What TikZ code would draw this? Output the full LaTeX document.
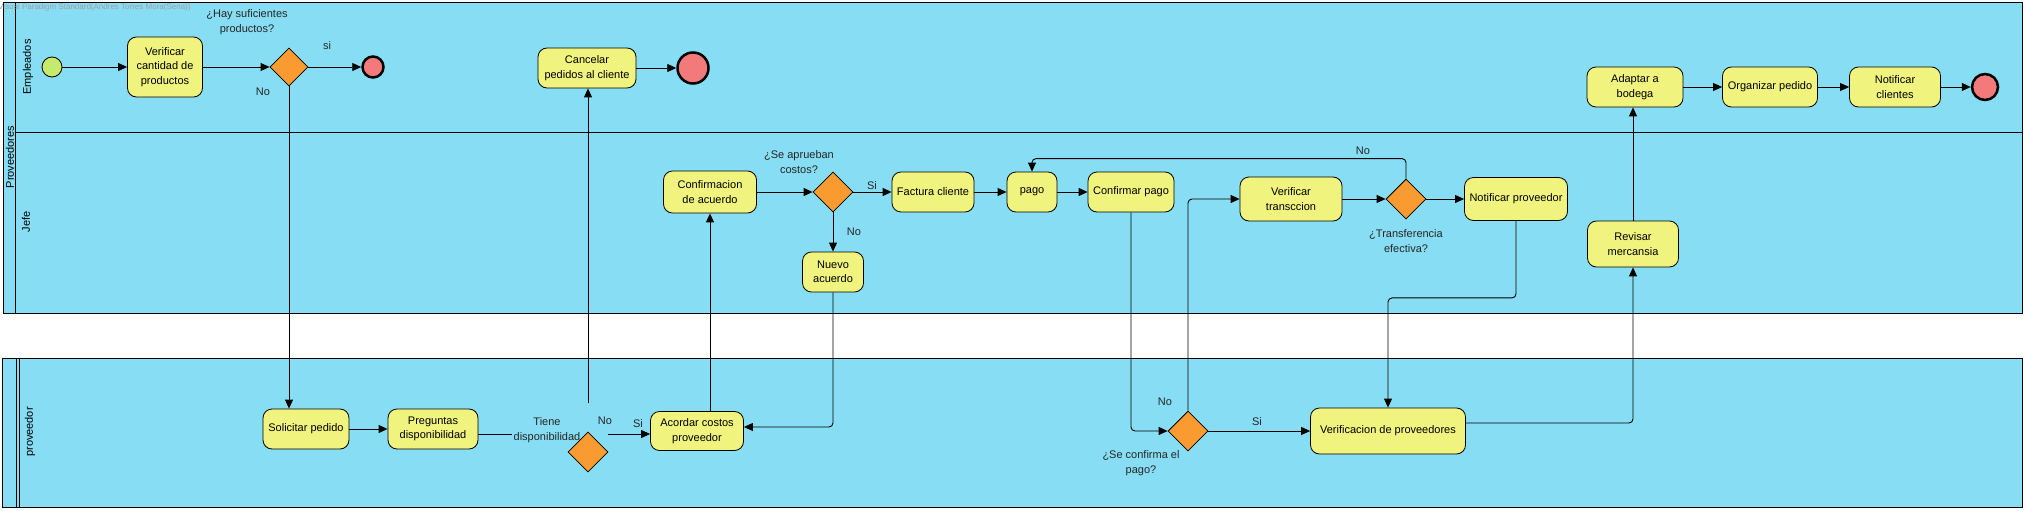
\documentclass[tikz,border=0pt]{standalone}
\usepackage{fontspec}
\setmainfont{Liberation Sans}
\usetikzlibrary{positioning,shapes.geometric,arrows.meta}
\definecolor{lanecol}{HTML}{87DDF3}
\definecolor{taskcol}{HTML}{F0F37D}
\definecolor{gatecol}{HTML}{FA9B32}
\definecolor{startcol}{HTML}{C5EA6C}
\definecolor{endcol}{HTML}{F27A7A}
\newcommand{\poolTop}{(3,3) rectangle (2022,313)}
\newcommand{\poolBot}{(2,358) rectangle (2022,507)}

\begin{document}
\begin{tikzpicture}[x=1pt,y=-1pt,
  every node/.style={font=\fontsize{11}{14.5}\selectfont},
  task/.style={draw,fill=taskcol,rounded corners=9pt,align=center,inner sep=2pt,line width=0.8pt},
  gateway/.style={draw,fill=gatecol,diamond,minimum width=40pt,minimum height=40pt,inner sep=0pt,line width=0.8pt},
  startev/.style={draw,fill=startcol,circle,minimum size=20pt,inner sep=0pt,line width=0.8pt},
  endev/.style={draw,fill=endcol,circle,inner sep=0pt,line width=2.5pt},
  flow/.style={-{Triangle[length=9pt,width=8pt]},line width=0.9pt,rounded corners=4pt},
  lbl/.style={align=center,inner sep=1pt,text=black!85},
  lanename/.style={rotate=90,inner sep=0pt}]
\useasboundingbox (0,0) rectangle (2026,511);

% pools
\fill[lanecol] \poolTop;
\draw[line width=1pt] \poolTop;
\draw[line width=1pt] (15,3) -- (15,313) (15,132) -- (2022,132);
\fill[lanecol] \poolBot;
\draw[line width=1pt] \poolBot;
\draw[line width=1pt] (16,358) -- (16,507) (19,358) -- (19,507);

\node[anchor=west,inner sep=0pt,text=gray!75,font=\fontsize{8}{9}\selectfont] (marca) at (-2,7) {Visual Paradigm Standard(Andres Torres Mora(Sena))};
\node[lanename] (lblprov) at (10,157) {Proveedores};
\node[lanename] (lblemp) at (28,67) {Empleados};
\node[lanename] (lbljefe) at (26,222) {Jefe};
\node[lanename] (lblproveedor) at (30,432) {proveedor};

% Empleados
\node[startev] (inicio) at (52,67) {};
\node[task,minimum width=75pt,minimum height=60pt] (verificar) at (165,67) {Verificar\\cantidad de\\productos};
\node[gateway,minimum width=38pt,minimum height=38pt] (gw1) at (289,67) {};
\node[endev,minimum size=21pt] (fin1) at (373,67) {};
\node[task,minimum width=98pt,minimum height=40pt] (cancelar) at (587,68) {Cancelar\\pedidos al cliente};
\node[endev,minimum size=31pt] (fin2) at (693,68) {};
\node[task,minimum width=96pt,minimum height=40pt] (adaptar) at (1635,87) {Adaptar a\\bodega};
\node[task,minimum width=95pt,minimum height=40pt] (organizar) at (1770,87) {Organizar pedido};
\node[task,minimum width=91pt,minimum height=40pt] (notclientes) at (1895,87) {Notificar\\clientes};
\node[endev,minimum size=26pt] (fin3) at (1985,87) {};

% Jefe
\node[task,minimum width=93pt,minimum height=42pt] (confacuerdo) at (710,192) {Confirmacion\\de acuerdo};
\node[gateway] (gw2) at (833,192) {};
\node[task,minimum width=82pt,minimum height=40pt] (factura) at (933,192) {Factura cliente};
\node[task,minimum width=50pt,minimum height=40pt] (pago) at (1032,192) {pago};
\node[task,minimum width=86pt,minimum height=40pt] (confpago) at (1131,192) {Confirmar pago};
\node[task,minimum width=61pt,minimum height=40pt] (nuevo) at (833,272) {Nuevo\\acuerdo};
\node[task,minimum width=102pt,minimum height=44pt] (vertrans) at (1291,199) {Verificar\\transccion};
\node[gateway] (gw3) at (1406,199) {};
\node[task,minimum width=103pt,minimum height=43pt] (notprov) at (1516,199) {Notificar proveedor};
\node[task,minimum width=91pt,minimum height=46pt] (revisar) at (1633,244) {Revisar\\mercansia};

% proveedor
\node[task,minimum width=86pt,minimum height=40pt] (solicitar) at (306,429) {Solicitar pedido};
\node[task,minimum width=90pt,minimum height=40pt] (preguntas) at (433,429) {Preguntas\\disponibilidad};
\node[gateway] (gw5) at (588,452) {};
\node[task,minimum width=93pt,minimum height=39pt] (acordar) at (697,431) {Acordar costos\\proveedor};
\node[gateway] (gw4) at (1188,431) {};
\node[task,minimum width=155pt,minimum height=46pt] (verifprov) at (1388,431) {Verificacion de proveedores};

% etiquetas
\node[lbl] (preg1) at (247,22) {¿Hay suficientes\\productos?};
\node[lbl] (si1) at (327,46) {si};
\node[lbl] (no1) at (263,92) {No};
\node[lbl] (preg2) at (799,162) {¿Se aprueban\\costos?};
\node[lbl] (si2) at (872,186) {Si};
\node[lbl] (no2) at (854,232) {No};
\node[lbl] (no3) at (1363,151) {No};
\node[lbl] (preg3) at (1406,241) {¿Transferencia\\efectiva?};
\node[lbl] (tiene) at (547,430) {Tiene\\disponibilidad};
\node[lbl] (no5) at (605,421) {No};
\node[lbl] (si5) at (638,424) {Si};
\node[lbl] (no4) at (1165,402) {No};
\node[lbl] (si4) at (1257,422) {Si};
\node[lbl] (preg4) at (1141,463) {¿Se confirma el\\pago?};

\coordinate (g5up) at (588,403);
\coordinate (g5out) at (608,434);

% flujos
\draw[flow] (inicio) -- (verificar);
\draw[flow] (verificar) -- (gw1);
\draw[flow] (gw1) -- (fin1);
\draw[flow] (gw1.south) -- (gw1.south |- solicitar.north);
\draw[flow] (cancelar) -- (fin2);
\draw[flow] (adaptar) -- (organizar);
\draw[flow] (organizar) -- (notclientes);
\draw[flow] (notclientes) -- (fin3);

\draw[flow] (confacuerdo) -- (gw2);
\draw[flow] (gw2) -- (factura);
\draw[flow] (gw2) -- (nuevo);
\draw[flow] (factura) -- (pago);
\draw[flow] (pago) -- (confpago);
\draw[flow] (gw3.north) -- ++(0,-20) -| (pago.north);
\draw[flow] (vertrans) -- (gw3);
\draw[flow] (gw3) -- (notprov);
\draw[flow] (notprov.south) -- ++(0,77) -| (verifprov.north);
\draw[flow] (revisar.north) -- (revisar.north |- adaptar.south);

\draw[flow] (solicitar) -- (preguntas);
\draw ([yshift=-5pt]preguntas.east) -- ([yshift=-5pt]preguntas.east -| tiene.west);
\draw[flow] (g5out) -- (g5out -| acordar.west);
\draw[flow] (g5up) -- (g5up |- cancelar.south);
\draw[flow] (nuevo.south) |- ([yshift=4pt]acordar.east);
\draw[flow] (acordar.north -| confacuerdo.south) -- (confacuerdo.south);
\draw[flow] (confpago.south) |- (gw4.west);
\draw[flow] (gw4.north) |- (vertrans.west);
\draw[flow] (gw4) -- (verifprov);
\draw[flow] ([yshift=8pt]verifprov.east) -| (revisar.south);
\end{tikzpicture}
\end{document}
